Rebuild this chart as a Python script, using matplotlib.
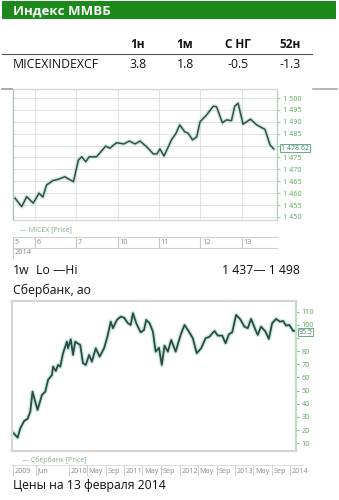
import matplotlib
matplotlib.use("Agg")
import matplotlib.pyplot as plt
import numpy as np

# ---------------- data ----------------
title = "Индекс ММВБ"
table_cols = ["1н", "1м", "С НГ", "52н"]
table_name = "MICEXINDEXCF"
table_vals = ["3.8", "1.8", "-0.5", "-1.3"]

# MICEX intraday (x: trading sessions, 0 = start of Feb 6)
micex_t = [-0.48, -0.32, -0.20, -0.04, 0.10, 0.19, 0.28, 0.44, 0.56, 0.72, 0.93,
           1.05, 1.13, 1.23, 1.31, 1.49, 1.71, 1.81, 1.97, 2.15, 2.28, 2.42, 2.54,
           2.70, 2.86, 2.95, 3.02, 3.12, 3.30, 3.41, 3.50, 3.62, 3.70, 3.81, 3.91,
           3.99, 4.15, 4.31, 4.39, 4.53, 4.63, 4.75, 4.83, 4.91, 5.03, 5.21, 5.36,
           5.56, 5.68, 5.77]
micex_v = [1457.9, 1454.3, 1458.5, 1455.8, 1460.0, 1458.3, 1463.4, 1465.3, 1465.8,
           1466.9, 1464.8, 1473.9, 1475.3, 1473.2, 1475.3, 1475.3, 1479.8, 1478.9,
           1481.2, 1480.7, 1481.9, 1480.7, 1481.9, 1479.5, 1476.5, 1476.5, 1478.6,
           1475.6, 1482.4, 1485.2, 1488.7, 1485.8, 1485.2, 1482.4, 1483.7, 1490.0,
           1492.9, 1496.6, 1496.3, 1489.6, 1490.8, 1490.5, 1496.6, 1497.8, 1489.0,
           1491.1, 1488.7, 1486.8, 1480.3, 1478.62]
micex_last = 1478.62
micex_day_ticks = [0, 1, 2, 3, 4, 5]
micex_day_labels = ["6", "7", "10", "11", "12", "13"]
micex_yticks = [1450, 1455, 1460, 1465, 1470, 1475, 1480, 1485, 1490, 1495, 1500]
micex_hidden_label = 1480

range_label = "1 437— 1 498"

# Sberbank (x: decimal year)
sber_t = [2009.01, 2009.08, 2009.13, 2009.20, 2009.26, 2009.31, 2009.35, 2009.44,
          2009.52, 2009.58, 2009.63, 2009.70, 2009.72, 2009.77, 2009.81, 2009.85,
          2009.90, 2009.97, 2009.99, 2010.04, 2010.08, 2010.12, 2010.16, 2010.21,
          2010.26, 2010.31, 2010.37, 2010.42, 2010.49, 2010.56, 2010.64, 2010.70,
          2010.76, 2010.80, 2010.87, 2010.94, 2011.00, 2011.07, 2011.12, 2011.16,
          2011.22, 2011.30, 2011.36, 2011.40, 2011.46, 2011.52, 2011.57, 2011.63,
          2011.68, 2011.73, 2011.79, 2011.85, 2011.93, 2012.02, 2012.09, 2012.17,
          2012.24, 2012.31, 2012.39, 2012.47, 2012.54, 2012.63, 2012.69, 2012.77,
          2012.83, 2012.89, 2012.95, 2013.02, 2013.09, 2013.17, 2013.23, 2013.29,
          2013.37, 2013.41, 2013.47, 2013.55, 2013.61, 2013.67, 2013.74, 2013.81,
          2013.87, 2013.92, 2013.98, 2014.05, 2014.08]
sber_v = [17.6, 14.3, 21.4, 27.0, 28.5, 34.0, 49.2, 35.3, 46.7, 49.2, 58.1, 61.9,
          68.2, 64.9, 69.5, 68.2, 78.4, 87.2, 82.2, 89.0, 77.1, 87.2, 86.0, 84.7,
          70.8, 69.5, 77.1, 72.0, 82.2, 75.8, 82.2, 91.0, 102.4, 97.4, 103.7, 106.2,
          105.4, 101.2, 99.9, 108.8, 101.2, 94.3, 96.1, 103.7, 101.2, 94.8, 79.6,
          82.6, 69.5, 84.2, 79.6, 88.5, 79.6, 92.3, 99.9, 94.8, 89.8, 78.4, 82.2,
          89.8, 91.0, 95.3, 91.8, 91.8, 86.0, 92.8, 94.3, 107.5, 104.5, 98.6, 97.4,
          104.5, 96.1, 92.3, 98.6, 94.8, 89.3, 101.2, 104.5, 102.4, 102.9, 99.4,
          99.9, 95.3, 95.5]
sber_last = 95.5
sber_yticks = [10, 20, 30, 40, 50, 60, 70, 80, 90, 100, 110]
sber_hidden_label = 90
sber_xticks = [2009.0, 2009.42, 2010.0, 2010.33, 2010.67, 2011.0, 2011.33, 2011.67,
               2012.0, 2012.33, 2012.67, 2013.0, 2013.33, 2013.67, 2014.0]
sber_xlabels = ["2009", "Jun", "2010", "May", "Sep", "2011", "May", "Sep",
                "2012", "May", "Sep", "2013", "May", "Sep", "2014"]

# ---------------- figure ----------------
W, H = 339, 500
plt.rcParams['font.family'] = ['Open Sans', 'DejaVu Sans']
fig = plt.figure(figsize=(W / 100, H / 100), dpi=100)
fig.patch.set_facecolor("white")


def fx(x):
    return x / W


def fy(y):
    return 1 - y / H


def add_ax(x0, y0, x1, y1, **kw):
    return fig.add_axes([x0 / W, 1 - y1 / H, (x1 - x0) / W, (y1 - y0) / H], **kw)


def hline(x0, x1, y, color, lw=1.0):
    fig.add_artist(plt.Line2D([fx(x0), fx(x1)], [fy(y), fy(y)], color=color, lw=lw))


# header bar
bar = add_ax(2, 1, 336, 19)
bar.set_facecolor("#1b8a1b")
bar.set_xticks([]); bar.set_yticks([])
for s in bar.spines.values():
    s.set_visible(False)
fig.text(fx(13), fy(11), title, color="white", fontsize=9.5, fontweight="bold",
         va="center", ha="left")

# table
col_x = [138, 185, 238, 290]
for cx, c in zip(col_x, table_cols):
    fig.text(fx(cx), fy(45), c, fontsize=8.5, fontweight="bold", ha="center",
             va="center", color="#111111")
hline(2, 312, 53.5, "#555555", lw=0.8)
fig.text(fx(13), fy(64), table_name, fontsize=8.8, ha="left", va="center",
         color="#111111")
for cx, v in zip(col_x, table_vals):
    fig.text(fx(cx), fy(64), v, fontsize=8.8, ha="center", va="center",
             color="#111111")

# small grey marks
hline(2, 12, 89, "#999999", lw=1.2)
hline(313, 337, 89, "#aaaaaa", lw=1.2)

GREEN_TXT = "#5aa85a"

# ---------------- chart 1 ----------------
ax1 = add_ax(13, 89, 277, 220)
ax1.plot(micex_t, micex_v, color="#9adccb", lw=3.0, alpha=0.55, solid_joinstyle="round")
ax1.plot(micex_t, micex_v, color="#3b4a46", lw=1.1, solid_joinstyle="round")
ax1.set_xlim(-0.53, 5.85)
ax1.set_ylim(1448.7, 1503.8)
ax1.set_xticks(micex_day_ticks)
ax1.set_yticks(micex_yticks)
ax1.grid(True, color="#e2e2e2", lw=0.7)
ax1.tick_params(axis="x", length=0, labelbottom=False)
ax1.yaxis.tick_right()
ax1.tick_params(axis="y", length=2, color="#9ccc9c", labelsize=5.2,
                labelcolor=GREEN_TXT, pad=2)
ax1.set_yticklabels(["" if v == micex_hidden_label else f"{v // 1000} {v % 1000:03d}"
                     for v in micex_yticks])
for s in ["top", "bottom"]:
    ax1.spines[s].set_color("#cfd8cf")
ax1.spines["left"].set_color("#9fc4b8")
ax1.spines["right"].set_color("#a8d4a8")
for s in ax1.spines.values():
    s.set_linewidth(0.9)
ax1.annotate(f"1 {micex_last - 1000:.2f}", xy=(1.0, micex_last),
             xycoords=("axes fraction", "data"), xytext=(3, 0.6),
             textcoords="offset points", fontsize=5.0, color="#3f7f5f",
             va="center", ha="left",
             bbox=dict(boxstyle="square,pad=0.12", fc="white", ec="#4aa07a", lw=0.6))

fig.text(fx(20), fy(230), "— MICEX [Price]", fontsize=5, color="#7fb07f",
         ha="left", va="center")

# x strip for chart 1
s1 = add_ax(13, 237, 277, 248)
s1.set_xlim(ax1.get_xlim()); s1.set_ylim(0, 1)
s1.set_xticks([]); s1.set_yticks([])
for s in ["left", "right"]:
    s1.spines[s].set_visible(False)
for s in ["top", "bottom"]:
    s1.spines[s].set_color("#d0d0d0")
s1.axvline(-0.53, color="#c8c8c8", lw=0.8)
s1.text(-0.50, 0.5, "5", fontsize=5.3, color="#8a8a8a", va="center", ha="left")
for t, lab in zip(micex_day_ticks, micex_day_labels):
    s1.axvline(t, color="#c8c8c8", lw=0.8)
    s1.text(t + 0.04, 0.5, lab, fontsize=5.3, color="#8a8a8a", va="center", ha="left")
fig.add_artist(plt.Line2D([fx(13), fx(13)], [fy(248), fy(258)], color="#c8c8c8", lw=0.8))
fig.text(fx(15), fy(253), "2014", fontsize=5.3, color="#8a8a8a", ha="left", va="center")

# text rows
fig.text(fx(13), fy(270), "1w", fontsize=8.8, ha="left", va="center", color="#111111")
fig.text(fx(36), fy(270), "Lo —Hi", fontsize=8.8, ha="left", va="center", color="#111111")
fig.text(fx(300), fy(270), range_label, fontsize=8.8, ha="right", va="center",
         color="#111111")
fig.text(fx(13), fy(290), "Сбербанк, ао", fontsize=8.8, ha="left", va="center",
         color="#111111")

# ---------------- chart 2 ----------------
ax2 = add_ax(12, 301, 296, 451)
ax2.plot(sber_t, sber_v, color="#9adccb", lw=3.2, alpha=0.55, solid_joinstyle="round")
ax2.plot(sber_t, sber_v, color="#2f4a42", lw=1.3, solid_joinstyle="round")
ax2.set_xlim(2008.98, 2014.1)
ax2.set_ylim(4.1, 118.1)
ax2.set_xticks([])
ax2.set_yticks(sber_yticks)
ax2.yaxis.tick_right()
ax2.tick_params(axis="y", length=2, color="#7fbf7f", labelsize=5.2,
                labelcolor=GREEN_TXT, pad=2)
ax2.set_yticklabels(["" if v == sber_hidden_label else str(v) for v in sber_yticks])
for s in ax2.spines.values():
    s.set_color("#d6d6d6")
    s.set_linewidth(1.6)
ax2.spines["right"].set_color("#bfe0bf")
ax2.annotate(f"{sber_last}", xy=(1.0, sber_last),
             xycoords=("axes fraction", "data"), xytext=(2, -1.0),
             textcoords="offset points", fontsize=5.0, color="#3f7f5f",
             va="center", ha="left",
             bbox=dict(boxstyle="square,pad=0.12", fc="white", ec="#4aa07a", lw=0.6))

fig.text(fx(22), fy(460), "— Сбербанк [Price]", fontsize=5, color="#7fb07f",
         ha="left", va="center")

s2 = add_ax(12, 465, 304, 476)
s2.set_xlim(2008.98, 2014.1 + (304 - 296) / 55.6); s2.set_ylim(0, 1)
s2.set_xticks([]); s2.set_yticks([])
for s in s2.spines.values():
    s.set_visible(False)
s2.axhline(1, color="#e0e0e0", lw=0.8)
for t, lab in zip(sber_xticks, sber_xlabels):
    s2.axvline(t, color="#cfcfcf", lw=0.7)
    s2.text(t + 0.03, 0.45, lab, fontsize=5.2, color="#8a8a8a", va="center", ha="left")

fig.text(fx(13), fy(486), "Цены на 13 февраля 2014", fontsize=8.8, ha="left",
         va="center", color="#111111")

fig.savefig("out.png", dpi=100, facecolor="white")
